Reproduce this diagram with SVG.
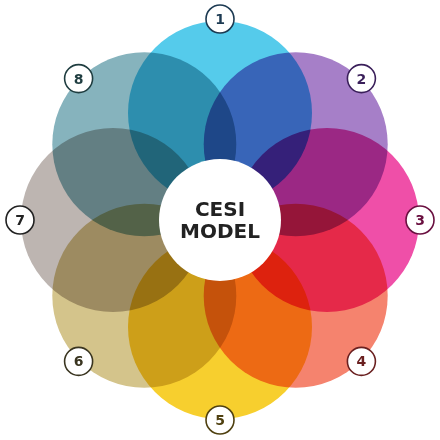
<svg xmlns="http://www.w3.org/2000/svg" width="440" height="440" viewBox="0 0 440 440">
<style>
.petal{mix-blend-mode:multiply}
.badge circle{fill:#fff;stroke-width:1.6}
.badge text{font-family:"DejaVu Sans",sans-serif;font-weight:bold;font-size:14px;text-anchor:middle;dominant-baseline:central}
.title{font-family:"DejaVu Sans",sans-serif;font-weight:bold;font-size:20px;text-anchor:middle;fill:#222}
</style>
<rect width="440" height="440" fill="#fff"/>
<g id="petals" style="isolation:isolate">
<circle id="petal1" class="petal" cx="220" cy="113" r="92" fill="#55cbeb"/>
<circle id="petal2" class="petal" cx="295.7" cy="144.3" r="92" fill="#a67fc8"/>
<circle id="petal3" class="petal" cx="327" cy="220" r="92" fill="#ef4fa8"/>
<circle id="petal4" class="petal" cx="295.7" cy="295.7" r="92" fill="#f5836e"/>
<circle id="petal5" class="petal" cx="220" cy="327" r="92" fill="#f7cf2e"/>
<circle id="petal6" class="petal" cx="144.3" cy="295.7" r="92" fill="#d4c48b"/>
<circle id="petal7" class="petal" cx="113" cy="220" r="92" fill="#bdb5b1"/>
<circle id="petal8" class="petal" cx="144.3" cy="144.3" r="92" fill="#86b3bd"/>
</g>
<g id="center">
<circle cx="220" cy="220" r="61" fill="#fff"/>
<text class="title" x="220" y="216">CESI</text>
<text class="title" x="220" y="238">MODEL</text>
</g>
<g id="badge1" class="badge"><circle cx="220" cy="19" r="14" stroke="#1c3a52"/><text x="220" y="19" fill="#1c3a52">1</text></g>
<g id="badge2" class="badge"><circle cx="361.4" cy="78.6" r="14" stroke="#3a1f5a"/><text x="361.4" y="78.6" fill="#3a1f5a">2</text></g>
<g id="badge3" class="badge"><circle cx="420" cy="220" r="14" stroke="#6a1040"/><text x="420" y="220" fill="#6a1040">3</text></g>
<g id="badge4" class="badge"><circle cx="361.4" cy="361.4" r="14" stroke="#6a2020"/><text x="361.4" y="361.4" fill="#6a2020">4</text></g>
<g id="badge5" class="badge"><circle cx="220" cy="420" r="14" stroke="#4f4010"/><text x="220" y="420" fill="#4f4010">5</text></g>
<g id="badge6" class="badge"><circle cx="78.6" cy="361.4" r="14" stroke="#3a3520"/><text x="78.6" y="361.4" fill="#3a3520">6</text></g>
<g id="badge7" class="badge"><circle cx="20" cy="220" r="14" stroke="#222"/><text x="20" y="220" fill="#222">7</text></g>
<g id="badge8" class="badge"><circle cx="78.6" cy="78.6" r="14" stroke="#1f3d40"/><text x="78.6" y="78.6" fill="#1f3d40">8</text></g>
</svg>
